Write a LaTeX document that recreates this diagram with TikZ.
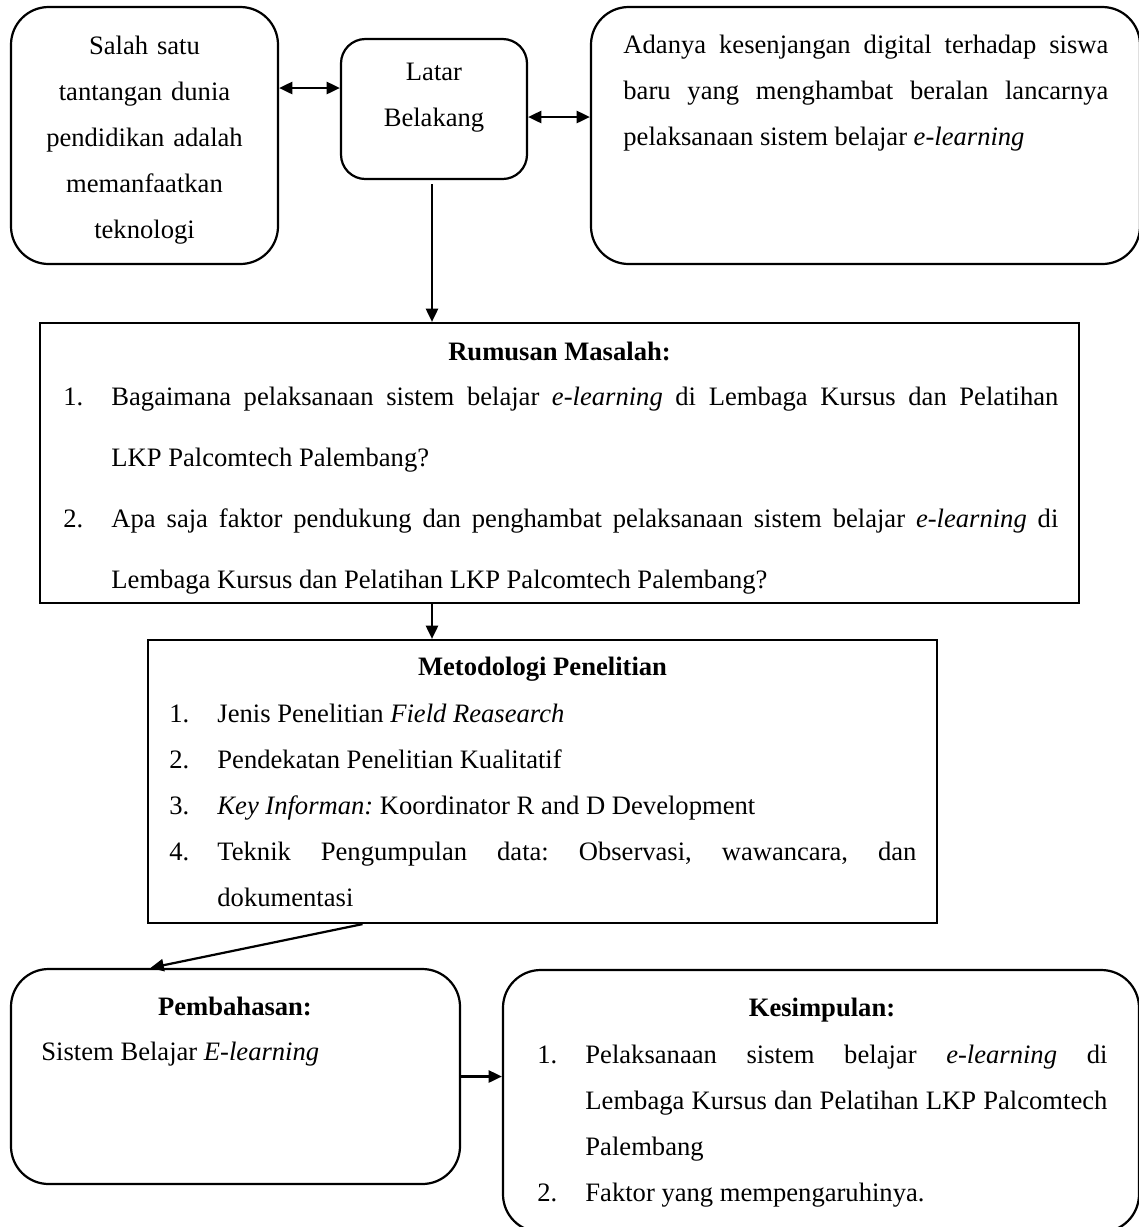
\documentclass[tikz,border=0pt]{standalone}
\usepackage{fontspec}
\setmainfont{Liberation Serif}
\usetikzlibrary{arrows.meta}
\usetikzlibrary{calc}
\newlength{\px}
\setlength{\px}{0.4511pt}
\hfuzz=8pt
\frenchspacing
\newcommand{\TopStrut}{\rule{0pt}{19\px}}
\newcommand{\ItemNo}[1]{\noindent\hangindent=48\px\hangafter=1\makebox[48\px][l]{#1}}
\tikzstyle{RoundBox}=[rectangle, draw=black, line width=1pt, rounded corners=17pt, inner sep=0pt]
\tikzstyle{SquareBox}=[rectangle, draw=black, line width=1pt, inner sep=0pt]
\tikzstyle{BoxText}=[inner sep=0pt, font=\fontsize{12}{20.75}\selectfont]
\tikzstyle{OneWay}=[-{Triangle[length=6pt,width=5.5pt]}, line width=1pt]
\tikzstyle{TwoWay}=[{Triangle[length=6pt,width=5.5pt]}-{Triangle[length=6pt,width=5.5pt]}, line width=1pt]

\begin{document}
\begin{tikzpicture}[x=\px, y=-\px]
\clip (0,0) rectangle (1139,1227);

% boxes
\node[RoundBox, minimum width=267\px, minimum height=257\px](Tantangan) at (144.5,135.5) {};
\node[RoundBox, rounded corners=11pt, minimum width=186\px, minimum height=140\px](Latar) at (434,109) {};
\node[RoundBox, minimum width=549\px, minimum height=257\px](Kesenjangan) at (865.5,135.5) {};
\node[SquareBox, minimum width=1039\px, minimum height=280\px](Rumusan) at (559.5,463) {};
\node[SquareBox, minimum width=789\px, minimum height=283\px](Metodologi) at (542.5,781.5) {};
\node[RoundBox, minimum width=449\px, minimum height=215\px](Pembahasan) at (235.5,1076.5) {};
\node[RoundBox, minimum width=636\px, minimum height=262\px](Kesimpulan) at (821,1101) {};

% texts
\node[BoxText, text width=267\px, align=center, anchor=north](TantanganTxt) at (144.5,35) {\TopStrut Salah satu\\ tantangan dunia\\ pendidikan adalah\\ memanfaatkan\\ teknologi};
\node[BoxText, text width=186\px, align=center, anchor=north](LatarTxt) at (434,61) {\TopStrut Latar\\ Belakang};
\node[BoxText, text width=485\px, align=justify, anchor=north west](KesenjanganTxt) at (623,34) {\TopStrut Adanya kesenjangan digital terhadap siswa\linebreak baru yang menghambat beralan lancarnya\linebreak pelaksanaan sistem belajar \textit{e-learning}};

\node[BoxText, anchor=north, font={\fontsize{12}{20.75}\selectfont\bfseries}](RumusanTitle) at (559.5,341) {\TopStrut Rumusan Masalah:};
\node[BoxText, text width=995\px, align=justify, anchor=north west, font=\fontsize{12}{27.5}\selectfont](RumusanList) at (63,386) {\ItemNo{1.}\TopStrut Bagaimana pelaksanaan sistem belajar \textit{e-learning} di Lembaga Kursus dan Pelatihan\linebreak LKP Palcomtech Palembang?\par
\ItemNo{2.}Apa saja faktor pendukung dan penghambat pelaksanaan sistem belajar \textit{e-learning} di\linebreak Lembaga Kursus dan Pelatihan LKP Palcomtech Palembang?\par};

\node[BoxText, anchor=north, font={\fontsize{12}{20.75}\selectfont\bfseries}](MetodologiTitle) at (542.5,656) {\TopStrut Metodologi Penelitian};
\node[BoxText, text width=747\px, align=justify, anchor=north west](MetodologiList) at (169,703) {\ItemNo{1.}\TopStrut Jenis Penelitian \textit{Field Reasearch}\par
\ItemNo{2.}Pendekatan Penelitian Kualitatif\par
\ItemNo{3.}\textit{Key Informan:} Koordinator R and D Development\par
\ItemNo{4.}Teknik Pengumpulan data: Observasi, wawancara, dan\linebreak dokumentasi\par};

\node[BoxText, anchor=north, font={\fontsize{12}{20.75}\selectfont\bfseries}](PembahasanTitle) at (235,996) {\TopStrut Pembahasan:};
\node[BoxText, anchor=north west](PembahasanTxt) at (41,1041) {\TopStrut Sistem Belajar \textit{E-learning}};

\node[BoxText, anchor=north, font={\fontsize{12}{20.75}\selectfont\bfseries}](KesimpulanTitle) at (822,997) {\TopStrut Kesimpulan:};
\node[BoxText, text width=570\px, align=justify, anchor=north west](KesimpulanList) at (537,1044) {\ItemNo{1.}\TopStrut Pelaksanaan sistem belajar \textit{e-learning} di\linebreak Lembaga Kursus dan Pelatihan LKP Palcomtech\linebreak Palembang\par
\ItemNo{2.}Faktor yang mempengaruhinya.\par};

% connectors
\coordinate (LeftLink) at ($(Latar.west)+(0,-21)$);
\coordinate (RightLink) at ($(Latar.east)+(0,8)$);
\coordinate (LatarOut) at ($(Latar.south)+(-2,4)$);
\coordinate (MetodeOut) at ($(Metodologi.south)+(-180,0)$);
\coordinate (BahasIn) at ($(Pembahasan.north)+(-85,0)$);

\draw[TwoWay](Tantangan.east |- LeftLink) -- (LeftLink);
\draw[TwoWay](RightLink) -- (Kesenjangan.west |- RightLink);
\draw[OneWay](LatarOut) -- (LatarOut |- Rumusan.north);
\draw[OneWay](LatarOut |- Rumusan.south) -- (LatarOut |- Metodologi.north);
\draw[OneWay](MetodeOut) -- (BahasIn);
\draw[OneWay](Pembahasan.east) -- (Pembahasan.east -| Kesimpulan.west);

\end{tikzpicture}
\end{document}
